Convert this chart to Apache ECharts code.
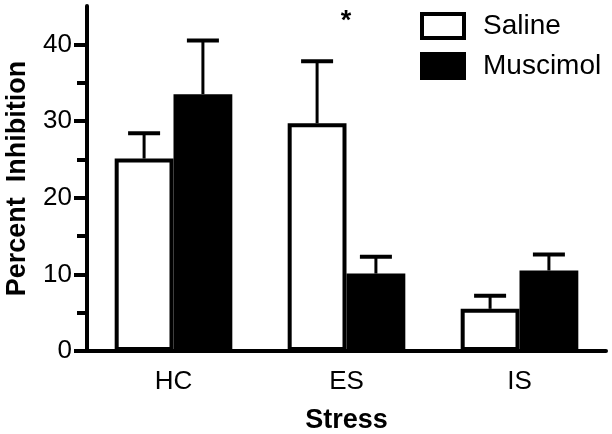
<!DOCTYPE html>
<html>
<head>
<meta charset="utf-8">
<script src="https://cdn.jsdelivr.net/npm/echarts@6/dist/echarts.min.js"></script>
<style>
html,body{margin:0;padding:0;background:#fff;}
#c{width:612px;height:434px;}
</style>
</head>
<body>
<div id="c"></div>
<script>
var categories = ['HC', 'ES', 'IS'];
var salineMean = [25.1, 29.7, 5.5];
var salineUpper = [28.4, 37.8, 7.2];
var muscimolMean = [33.5, 10.1, 10.5];
var muscimolUpper = [40.5, 12.3, 12.6];
var majorTicks = [0, 10, 20, 30, 40];
var minorTicks = [5, 15, 25, 35];

var FONT = '"Liberation Sans", Arial, sans-serif';
var GAP = 0.32;

function errData(means, uppers) {
  return means.map(function (m, i) { return [i, uppers[i], m]; });
}
function errRender(side) {
  return function (params, api) {
    var i = api.value(0);
    var top = api.coord([i, api.value(1)]);
    var base = api.coord([i, api.value(2)]);
    var band = api.size([1, 0])[0];
    var bw = band * (1 - GAP) / 2;
    var x = top[0] + side * bw / 2;
    var capHalf = 16;
    return {
      type: 'group',
      children: [
        { type: 'line', shape: { x1: x, y1: base[1], x2: x, y2: top[1] },
          style: { stroke: '#000', lineWidth: 3 } },
        { type: 'line', shape: { x1: x - capHalf, y1: top[1], x2: x + capHalf, y2: top[1] },
          style: { stroke: '#000', lineWidth: 4 } }
      ]
    };
  };
}

var chart = echarts.init(document.getElementById('c'));
chart.setOption({
  backgroundColor: '#fff',
  animation: false,
  grid: { left: 87, right: 6, top: 6, bottom: 83, containLabel: false, outerBoundsMode: 'none' },
  legend: {
    orient: 'vertical',
    left: 420, top: 12,
    padding: 0,
    itemWidth: 42, itemHeight: 24, itemGap: 12,
    icon: 'rect',
    textStyle: { fontFamily: FONT, fontSize: 28, color: '#000', padding: [0, 0, 0, 14], lineHeight: 28 },
    data: [
      { name: 'Saline', itemStyle: { color: '#fff', borderColor: '#000', borderWidth: 4 } },
      { name: 'Muscimol', itemStyle: { color: '#000', borderColor: '#000', borderWidth: 4 } }
    ]
  },
  xAxis: {
    type: 'category',
    data: categories,
    name: 'Stress',
    nameLocation: 'middle',
    nameGap: 56,
    nameTextStyle: { fontFamily: FONT, fontSize: 27, fontWeight: 'bold', color: '#000' },
    axisLine: { lineStyle: { color: '#000', width: 4 } },
    axisTick: { alignWithLabel: true, length: 12, lineStyle: { color: '#000', width: 4 } },
    axisLabel: { fontFamily: FONT, fontSize: 26, color: '#000', margin: 18 }
  },
  yAxis: [
    {
      type: 'value', min: 0, max: 45, interval: 5,
      name: 'Percent  Inhibition',
      nameLocation: 'middle',
      nameGap: 56,
      nameRotate: 90,
      nameTextStyle: { fontFamily: FONT, fontSize: 27, fontWeight: 'bold', color: '#000' },
      axisLine: { show: true, lineStyle: { color: '#000', width: 4 } },
      axisTick: { show: true, length: 13, customValues: majorTicks, lineStyle: { color: '#000', width: 4 } },
      axisLabel: { fontFamily: FONT, fontSize: 26, color: '#000', margin: 15, customValues: majorTicks },
      splitLine: { show: false }
    },
    {
      type: 'value', min: 0, max: 45, interval: 5, position: 'left',
      axisLine: { show: false },
      axisTick: { show: true, length: 10, customValues: minorTicks, lineStyle: { color: '#000', width: 4 } },
      axisLabel: { show: false },
      splitLine: { show: false }
    }
  ],
  series: [
    {
      name: 'Saline', type: 'bar', data: salineMean,
      barGap: '0%', barCategoryGap: (GAP * 100) + '%',
      itemStyle: { color: '#fff', borderColor: '#000', borderWidth: 4 },
      z: 2
    },
    {
      name: 'Muscimol', type: 'bar', data: muscimolMean,
      barGap: '0%', barCategoryGap: (GAP * 100) + '%',
      itemStyle: { color: '#000', borderColor: '#000', borderWidth: 4 },
      z: 2
    },
    {
      name: 'SalineErr', type: 'custom', data: errData(salineMean, salineUpper),
      renderItem: errRender(-1), z: 3, silent: true
    },
    {
      name: 'MuscimolErr', type: 'custom', data: errData(muscimolMean, muscimolUpper),
      renderItem: errRender(1), z: 3, silent: true
    }
  ],
  graphic: [
    { type: 'text', x: 346, y: 8, style: { text: '*', font: 'bold 27px ' + FONT, fill: '#000', textAlign: 'center', textVerticalAlign: 'top' } }
  ]
});
</script>
</body>
</html>
